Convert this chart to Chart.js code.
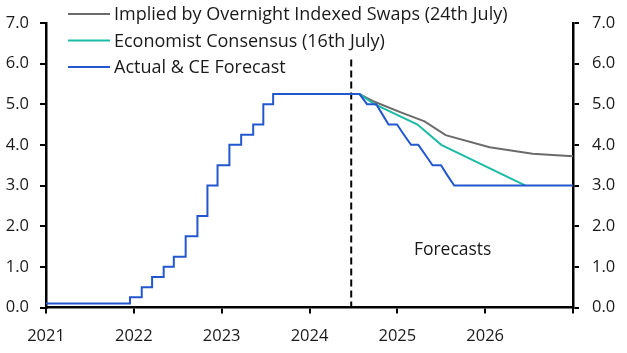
<!DOCTYPE html>
<html>
<head>
<meta charset="utf-8">
<script src="https://cdn.jsdelivr.net/npm/chart.js@4.4.1/dist/chart.umd.min.js"></script>
<style>
  html, body { margin: 0; padding: 0; background: #fff; }
  #chart { display: block; }
</style>
</head>
<body>
<canvas id="chart" width="627" height="353"></canvas>
<script>
// Bank Rate decisions (decimal years) and the level after each one
var histDates = [2021.0, 2021.956, 2022.09, 2022.208, 2022.34, 2022.455, 2022.59, 2022.724, 2022.838, 2022.953, 2023.088, 2023.222, 2023.359, 2023.474, 2023.586]
var histRates = [0.1, 0.25, 0.5, 0.75, 1.0, 1.25, 1.75, 2.25, 3.0, 3.5, 4.0, 4.25, 4.5, 5.0, 5.25]

// CE forecast, monthly
var fcDates = [2024.57, 2024.655, 2024.76, 2024.83, 2024.90, 2024.997, 2025.075, 2025.156, 2025.239, 2025.32, 2025.401, 2025.497, 2025.57, 2025.648, 2027.0]
var fcRates = [5.25, 5.0, 5.0, 4.75, 4.5, 4.5, 4.25, 4.0, 4.0, 3.75, 3.5, 3.5, 3.25, 3.0, 3.0]

// Overnight indexed swaps (24th July)
var oisDates = [2024.57, 2024.74, 2025.04, 2025.31, 2025.55, 2026.05, 2026.54, 2027.0]
var oisRates = [5.25, 5.06, 4.80, 4.58, 4.24, 3.94, 3.78, 3.72]

// Economist consensus (16th July)
var consDates = [2024.57, 2024.74, 2025.23, 2025.50, 2026.46]
var consRates = [5.25, 5.0, 4.5, 4.0, 3.0]

var forecastStart = 2024.475
var yTicks = [0, 1, 2, 3, 4, 5, 6, 7]
var xYears = [2021, 2022, 2023, 2024, 2025, 2026]

function toPoints(xs, ys) {
    return xs.map(function (x, i) { return { x: x, y: ys[i] } })
}

// step the history, then join the monthly forecast
var actualPts = [{ x: histDates[0], y: histRates[0] }]
for (var i = 1; i < histDates.length; i++) {
    actualPts.push({ x: histDates[i], y: histRates[i - 1] })
    actualPts.push({ x: histDates[i], y: histRates[i] })
}
actualPts = actualPts.concat(toPoints(fcDates, fcRates))

var FONT = '"Open Sans", "Noto Sans", sans-serif'
var TXT = '#1a1a1a'

var legendOrder = [2, 1, 0]

var overlayPlugin = {
    id: 'overlay',
    afterDraw: function (chart) {
        var ctx = chart.ctx
        ctx.save()
        ctx.font = '18px ' + FONT
        ctx.fillStyle = TXT
        ctx.textBaseline = 'middle'
        legendOrder.forEach(function (di, row) {
            var ds = chart.data.datasets[di]
            var y = 14 + row * 26.5
            ctx.strokeStyle = ds.borderColor
            ctx.lineWidth = 2
            ctx.beginPath()
            ctx.moveTo(68, y)
            ctx.lineTo(110, y)
            ctx.stroke()
            ctx.textAlign = 'left'
            ctx.fillText(ds.label, 114, y + 1)
        })
        var xs = chart.scales.x, ys = chart.scales.y
        ctx.font = '17.5px ' + FONT
        ctx.textAlign = 'center'
        ctx.fillText('Forecasts', xs.getPixelForValue(2025.63), ys.getPixelForValue(1.41))
        ctx.restore()
    }
}

var axisGrid = {
    drawOnChartArea: false,
    drawTicks: true,
    tickLength: 6,
    color: '#000',
    lineWidth: 2
}

new Chart(document.getElementById('chart'), {
    type: 'line',
    data: {
        datasets: [{
            label: 'Actual & CE Forecast',
            data: actualPts,
            borderColor: '#2257d0',
            borderWidth: 2,
            order: 0
        }, {
            label: 'Economist Consensus (16th July)',
            data: toPoints(consDates, consRates),
            borderColor: '#1cbba5',
            borderWidth: 2,
            order: 1
        }, {
            label: 'Implied by Overnight Indexed Swaps (24th July)',
            data: toPoints(oisDates, oisRates),
            borderColor: '#6b6b6b',
            borderWidth: 2,
            order: 2
        }, {
            label: 'forecast start',
            data: [{ x: forecastStart, y: 6.1 }, { x: forecastStart, y: 0 }],
            borderColor: '#000',
            borderWidth: 2,
            borderDash: [7, 4],
            order: 3
        }]
    },
    options: {
        responsive: false,
        animation: false,
        layout: { padding: { top: 16, left: 0, right: 0, bottom: 0 } },
        elements: { point: { radius: 0 }, line: { tension: 0 } },
        plugins: { legend: { display: false }, tooltip: { enabled: false } },
        scales: {
            x: {
                type: 'linear',
                min: 2021,
                max: 2027,
                afterBuildTicks: function (s) {
                    s.ticks = xYears.concat([2027]).map(function (v) { return { value: v } })
                },
                afterFit: function (s) { s.height = 45.5 },
                ticks: {
                    color: TXT,
                    font: { family: FONT, size: 16.5 },
                    padding: 13,
                    maxRotation: 0,
                    callback: function (v) { return v < 2027 ? String(v) : '' }
                },
                grid: axisGrid,
                border: { color: '#000', width: 2.5 }
            },
            y: {
                position: 'left',
                min: 0,
                max: 7,
                afterBuildTicks: function (s) {
                    s.ticks = yTicks.map(function (v) { return { value: v } })
                },
                afterFit: function (s) { s.width = 46 },
                ticks: {
                    color: TXT,
                    font: { family: FONT, size: 16.5 },
                    padding: 11,
                    callback: function (v) { return v.toFixed(1) }
                },
                grid: axisGrid,
                border: { color: '#000', width: 2.5 }
            },
            y2: {
                position: 'right',
                min: 0,
                max: 7,
                afterBuildTicks: function (s) {
                    s.ticks = yTicks.map(function (v) { return { value: v } })
                },
                afterFit: function (s) { s.width = 54 },
                ticks: {
                    color: TXT,
                    font: { family: FONT, size: 16.5 },
                    padding: 13,
                    callback: function (v) { return v.toFixed(1) }
                },
                grid: axisGrid,
                border: { color: '#000', width: 2.5 }
            }
        }
    },
    plugins: [overlayPlugin]
})
</script>
</body>
</html>
